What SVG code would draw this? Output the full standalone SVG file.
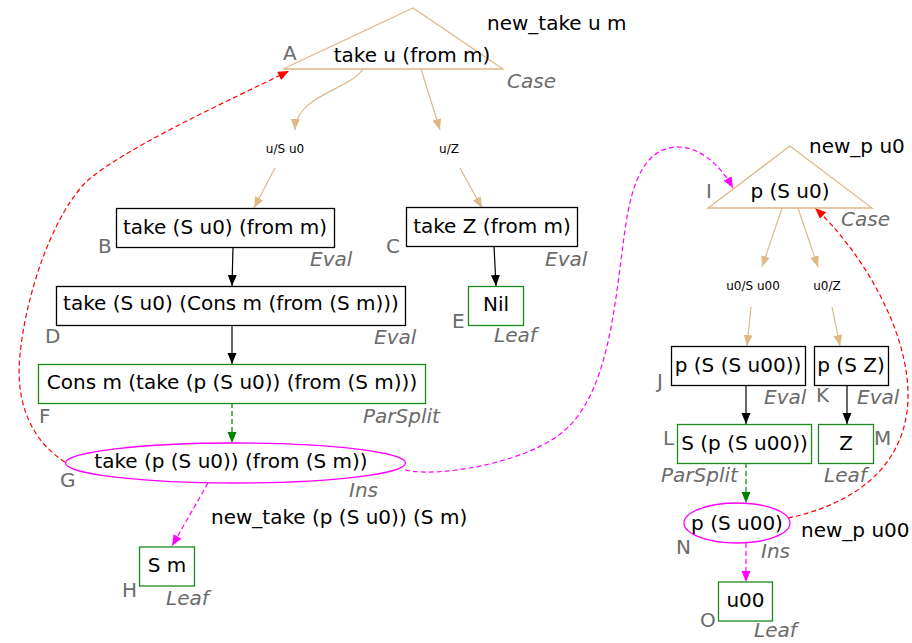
<svg xmlns="http://www.w3.org/2000/svg" width="912" height="643" viewBox="0 0 912 643">
<defs>
<style>
text{font-family:"DejaVu Sans","Liberation Sans",sans-serif}
.t{font-size:20px;fill:#000;text-anchor:middle}
.lbl{font-size:20px;fill:#000}
.id{font-size:20px;fill:#6b6b6b}
.kind{font-size:20px;fill:#6b6b6b;font-style:italic}
.sm{font-size:12px;fill:#000;text-anchor:middle}
.box{fill:#fff;stroke:#000;stroke-width:1.3}
.gbox{fill:#fff;stroke:#1a8a1a;stroke-width:1.3}
.tri{fill:#fff;stroke:#deb887;stroke-width:1.3}
.ell{fill:#fff;stroke:#ff00ff;stroke-width:1.3}
.e{fill:none;stroke-width:1.2}
.tan{stroke:#deb887;marker-end:url(#mTan)}
.blk{stroke:#000;marker-end:url(#mBlk)}
.grn{stroke:#008000;stroke-dasharray:5,3;marker-end:url(#mGrn)}
.mag{stroke:#ff00ff;stroke-dasharray:5,3;marker-end:url(#mMag)}
.red{stroke:#ff0000;stroke-dasharray:5,3;marker-end:url(#mRed)}
</style>
<marker id="mTan" markerUnits="userSpaceOnUse" markerWidth="12" markerHeight="10" refX="11" refY="4.5" orient="auto"><path d="M0,0 L11,4.5 L0,9 z" fill="#deb887"/></marker>
<marker id="mBlk" markerUnits="userSpaceOnUse" markerWidth="12" markerHeight="10" refX="11" refY="4.5" orient="auto"><path d="M0,0 L11,4.5 L0,9 z" fill="#000"/></marker>
<marker id="mGrn" markerUnits="userSpaceOnUse" markerWidth="12" markerHeight="10" refX="11" refY="4.5" orient="auto"><path d="M0,0 L11,4.5 L0,9 z" fill="#008000"/></marker>
<marker id="mMag" markerUnits="userSpaceOnUse" markerWidth="12" markerHeight="10" refX="11" refY="4.5" orient="auto"><path d="M0,0 L11,4.5 L0,9 z" fill="#ff00ff"/></marker>
<marker id="mRed" markerUnits="userSpaceOnUse" markerWidth="12" markerHeight="10" refX="11" refY="4.5" orient="auto"><path d="M0,0 L11,4.5 L0,9 z" fill="#ff0000"/></marker>
</defs>
<rect width="912" height="643" fill="#fff"/>

<g id="connectors">
<path class="e tan" d="M363,69 C350,90 296,95 295,130"/>
<path class="e tan" d="M421,69 L440,130"/>
<path class="e tan" d="M275,168 L254,208"/>
<path class="e tan" d="M460,168 L482,208"/>
<path class="e tan" d="M782,208 L762,267"/>
<path class="e tan" d="M798,208 L818,267"/>
<path class="e tan" d="M751,307 L747,346"/>
<path class="e tan" d="M832,307 L840,346"/>
<path class="e blk" d="M233,247 L232,286"/>
<path class="e blk" d="M232,325 L232,364"/>
<path class="e blk" d="M494,246 L496,286"/>
<path class="e blk" d="M746,385 L746,424"/>
<path class="e blk" d="M847,385 L847,424"/>
<path class="e grn" d="M232,403 L232,443"/>
<path class="e grn" d="M746,463 L746,503"/>
<path class="e mag" d="M208,483 L172,546"/>
<path class="e mag" d="M746,543 L746,582"/>
<path class="e mag" d="M405,470 C440,478 530,462 565,430 C610,390 615,300 625,230 C632,180 645,150 675,147 C700,146 720,165 733,188"/>
<path class="e red" d="M65,462 C30,440 15,400 20,355 C25,300 50,220 85,183 C120,150 230,100 289,71"/>
<path class="e red" d="M788,518 C850,505 905,470 908,400 C910,330 860,250 815,208"/>
<text class="sm" x="285" y="153">u/S u0</text>
<text class="sm" x="449" y="153">u/Z</text>
<text class="sm" x="753" y="290">u0/S u00</text>
<text class="sm" x="827" y="290">u0/Z</text>
<text class="lbl" x="211" y="524">new_take (p (S u0)) (S m)</text>
</g>

<g id="A">
<polygon class="tri" points="413,8 283,69 503,69"/>
<text class="t" x="412" y="62">take u (from m)</text>
<text class="id" x="283" y="60">A</text>
<text class="kind" x="507" y="88">Case</text>
<text class="lbl" x="487" y="30">new_take u m</text>
</g>
<g id="B">
<rect class="box" x="116.5" y="208.5" width="218" height="39"/>
<text class="t" x="225" y="234">take (S u0) (from m)</text>
<text class="id" x="98" y="253">B</text>
<text class="kind" x="310" y="266">Eval</text>
</g>
<g id="C">
<rect class="box" x="406.5" y="207.5" width="171" height="39"/>
<text class="t" x="492" y="233">take Z (from m)</text>
<text class="id" x="386" y="253">C</text>
<text class="kind" x="545" y="266">Eval</text>
</g>
<g id="D">
<rect class="box" x="56.5" y="286.5" width="349" height="39"/>
<text class="t" x="231" y="310">take (S u0) (Cons m (from (S m)))</text>
<text class="id" x="45" y="343">D</text>
<text class="kind" x="374" y="344">Eval</text>
</g>
<g id="E">
<rect class="gbox" x="468.5" y="286.5" width="55" height="39"/>
<text class="t" x="496" y="311">Nil</text>
<text class="id" x="452" y="328">E</text>
<text class="kind" x="494" y="342">Leaf</text>
</g>
<g id="F">
<rect class="gbox" x="38.5" y="364.5" width="387" height="39"/>
<text class="t" x="232" y="389">Cons m (take (p (S u0)) (from (S m)))</text>
<text class="id" x="39" y="423">F</text>
<text class="kind" x="363" y="423">ParSplit</text>
</g>
<g id="G">
<ellipse class="ell" cx="235.5" cy="463" rx="170" ry="20"/>
<text class="t" x="231" y="468">take (p (S u0)) (from (S m))</text>
<text class="id" x="60" y="487">G</text>
<text class="kind" x="349" y="497">Ins</text>
</g>
<g id="H">
<rect class="gbox" x="139.5" y="547" width="55" height="39"/>
<text class="t" x="167" y="572">S m</text>
<text class="id" x="122" y="597">H</text>
<text class="kind" x="166" y="605">Leaf</text>
</g>
<g id="I">
<polygon class="tri" points="790,146 708,208 872,208"/>
<text class="t" x="790" y="198">p (S u0)</text>
<text class="id" x="706" y="198">I</text>
<text class="kind" x="841" y="226">Case</text>
<text class="lbl" x="809" y="153">new_p u0</text>
</g>
<g id="J">
<rect class="box" x="671.5" y="346.5" width="134" height="39"/>
<text class="t" x="738" y="372">p (S (S u00))</text>
<text class="id" x="657" y="388">J</text>
<text class="kind" x="764" y="404">Eval</text>
</g>
<g id="K">
<rect class="box" x="814.5" y="346.5" width="74" height="39"/>
<text class="t" x="851" y="372">p (S Z)</text>
<text class="id" x="816" y="402">K</text>
<text class="kind" x="857" y="404">Eval</text>
</g>
<g id="L">
<rect class="gbox" x="677.5" y="424.5" width="134" height="39"/>
<text class="t" x="744.5" y="450">S (p (S u00))</text>
<text class="id" x="663" y="445">L</text>
<text class="kind" x="661" y="482">ParSplit</text>
</g>
<g id="M">
<rect class="gbox" x="818.5" y="424.5" width="55" height="39"/>
<text class="t" x="846" y="450">Z</text>
<text class="id" x="874" y="445">M</text>
<text class="kind" x="824" y="482">Leaf</text>
</g>
<g id="N">
<ellipse class="ell" cx="737" cy="523" rx="53" ry="20"/>
<text class="t" x="737" y="530">p (S u00)</text>
<text class="id" x="676" y="554">N</text>
<text class="kind" x="761" y="558">Ins</text>
<text class="lbl" x="801" y="537">new_p u00</text>
</g>
<g id="O">
<rect class="gbox" x="718.5" y="582" width="54" height="39"/>
<text class="t" x="745.5" y="607">u00</text>
<text class="id" x="700" y="627">O</text>
<text class="kind" x="754" y="637">Leaf</text>
</g>
</svg>
